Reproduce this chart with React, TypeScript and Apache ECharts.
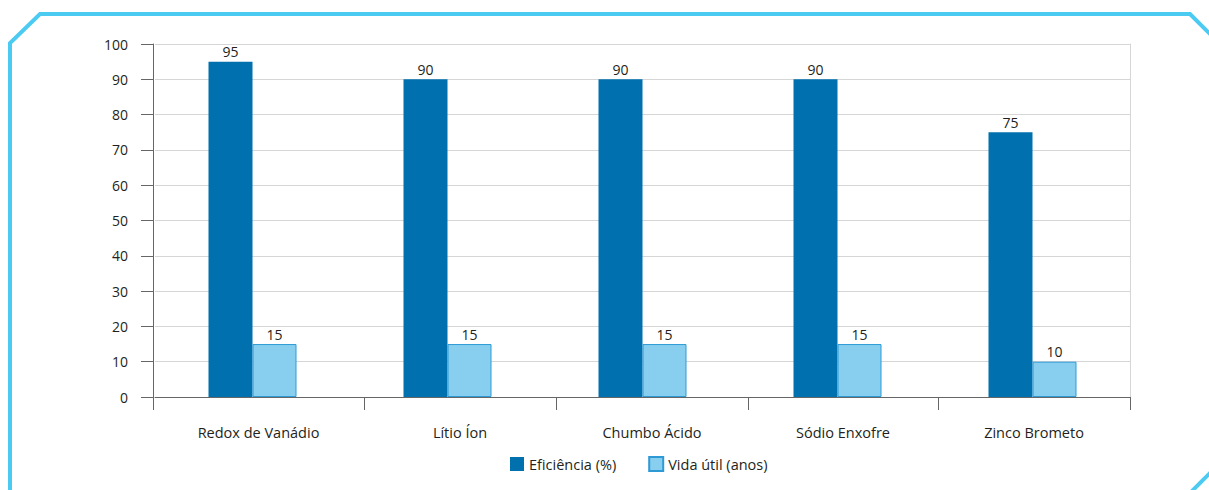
import React, { useEffect, useRef } from "react";
import * as echarts from "echarts";

const categories = ["Redox de Vanádio", "Lítio Íon", "Chumbo Ácido", "Sódio Enxofre", "Zinco Brometo"];
const eficiencia = [95, 90, 90, 90, 75];
const vidaUtil = [15, 15, 15, 15, 10];
const seriesNames = ["Eficiência (%)", "Vida útil (anos)"];

const FONT = "'Open Sans', sans-serif";
const TEXT = "#231f20";
const FS = 14;
// category separator tick positions (pixels) as drawn in the reference
const sepTicks = [153, 364, 556, 748, 938, 1130];

export default function App() {
  const ref = useRef<HTMLDivElement>(null);
  useEffect(() => {
    if (!ref.current) return;
    const chart = echarts.init(ref.current, undefined, { renderer: "svg" });
    const labelStyle = {
      show: true,
      position: "top" as const,
      distance: 3,
      color: TEXT,
      fontSize: FS,
      fontFamily: FONT,
    };
    chart.setOption({
      animation: false,
      backgroundColor: "#fff",
      textStyle: { fontFamily: FONT },
      graphic: [
        {
          type: "polyline",
          shape: {
            points: [
              [10, 500],
              [10, 43],
              [40, 14],
              [1190, 14],
              [1215, 39],
            ],
          },
          style: { stroke: "#4ccbf2", lineWidth: 4, fill: "none" },
        },
        {
          type: "line",
          shape: { x1: 1190, y1: 493, x2: 1215, y2: 468 },
          style: { stroke: "#4ccbf2", lineWidth: 4 },
        },
        ...sepTicks.map((x) => ({
          type: "line",
          shape: { x1: x + 0.5, y1: 397, x2: x + 0.5, y2: 410 },
          style: { stroke: "#666", lineWidth: 1 },
          z: 10,
        })),
        ...categories.map((c, i) => ({
          type: "text",
          x: (sepTicks[i] + sepTicks[i + 1]) / 2,
          y: 432,
          style: {
            text: c,
            fill: TEXT,
            fontSize: 14.5,
            fontFamily: FONT,
            align: "center",
            verticalAlign: "middle",
          },
        })),
      ],
      grid: {
        left: 155,
        top: 44,
        right: 79,
        bottom: 93,
      },
      legend: {
        left: 505,
        top: 451,
        itemWidth: 14,
        itemHeight: 14,
        itemGap: 32,
        icon: "rect",
        textStyle: { color: TEXT, fontSize: 14.5, fontFamily: FONT },
        data: seriesNames,
      },
      xAxis: {
        type: "category",
        data: categories,
        axisLine: { lineStyle: { color: "#666", width: 1 } },
        axisTick: { show: false },
        axisLabel: { show: false },
      },
      yAxis: [
        {
          type: "value",
          min: 0,
          max: 100,
          interval: 10,
          offset: 2,
          axisLine: { show: true, lineStyle: { color: "#666", width: 1 } },
          axisTick: { show: true, length: 12, lineStyle: { color: "#666" } },
          axisLabel: { color: TEXT, fontSize: FS, fontFamily: FONT, margin: 25 },
          splitLine: { lineStyle: { color: "#d6d6d6" } },
        },
        {
          type: "value",
          position: "right",
          min: 0,
          max: 100,
          interval: 10,
          axisLine: { show: true, lineStyle: { color: "#d6d6d6", width: 1 } },
          axisTick: { show: false },
          axisLabel: { show: false },
          splitLine: { show: false },
        },
      ],
      series: [
        {
          name: seriesNames[0],
          type: "bar",
          data: eficiencia,
          barWidth: 44,
          barGap: "0%",
          itemStyle: { color: "#0071ae" },
          label: labelStyle,
        },
        {
          name: seriesNames[1],
          type: "bar",
          data: vidaUtil,
          barWidth: 44,
          itemStyle: { color: "#88cfef", borderColor: "#2d9ad6", borderWidth: 1 },
          label: labelStyle,
        },
      ],
    });
    return () => chart.dispose();
  }, []);
  return (
    <div
      ref={ref}
      style={{ position: "absolute", left: 0, top: 0, width: 1209, height: 490 }}
    />
  );
}
